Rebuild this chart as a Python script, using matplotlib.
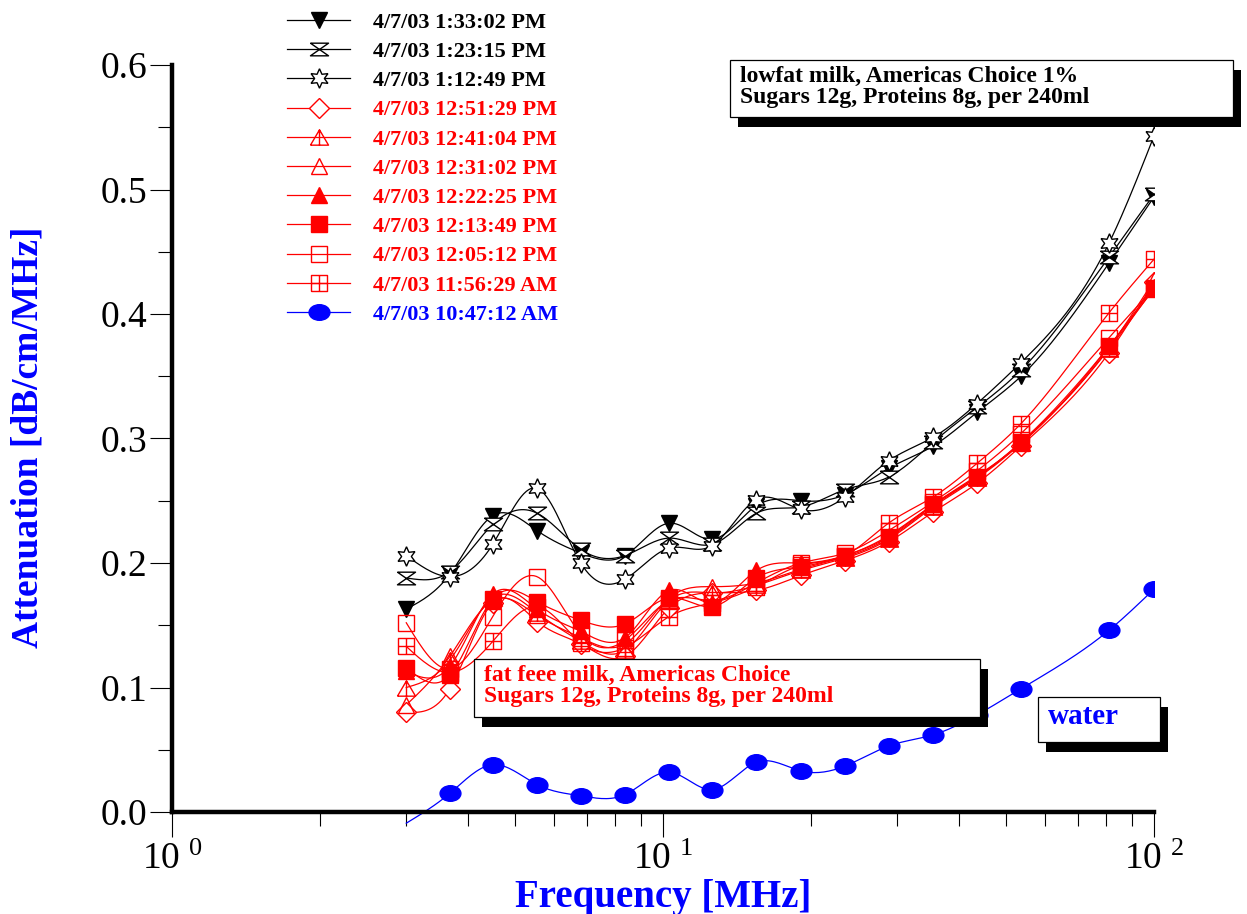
import numpy as np
import matplotlib
matplotlib.use('Agg')
import matplotlib.pyplot as plt
from matplotlib.path import Path
from matplotlib.lines import Line2D
from matplotlib.patches import Rectangle
from matplotlib.ticker import FixedLocator, NullFormatter, FuncFormatter
import matplotlib.patheffects as pe

plt.rcParams['font.family'] = ['Liberation Serif', 'DejaVu Serif']
plt.rcParams['mathtext.fontset'] = 'custom'
plt.rcParams['mathtext.rm'] = 'Liberation Serif'

freq = [3.0, 3.68, 4.5, 5.54, 6.8, 8.37, 10.3, 12.6, 15.5, 19.1, 23.5, 28.8,
        35.5, 43.6, 53.6, 81.0, 100.0]

labels = ['4/7/03 1:33:02 PM', '4/7/03 1:23:15 PM', '4/7/03 1:12:49 PM',
          '4/7/03 12:51:29 PM', '4/7/03 12:41:04 PM', '4/7/03 12:31:02 PM',
          '4/7/03 12:22:25 PM', '4/7/03 12:13:49 PM', '4/7/03 12:05:12 PM',
          '4/7/03 11:56:29 AM', '4/7/03 10:47:12 AM']

att_1330 = [0.163, 0.191, 0.238, 0.226, 0.208, 0.206, 0.232, 0.219, 0.246, 0.250, 0.255,
            0.276, 0.294, 0.321, 0.350, 0.441, 0.494]
att_1323 = [0.188, 0.193, 0.231, 0.240, 0.211, 0.206, 0.220, 0.215, 0.240, 0.245, 0.259,
            0.269, 0.297, 0.325, 0.355, 0.446, 0.496]
att_1312 = [0.206, 0.189, 0.215, 0.260, 0.200, 0.187, 0.212, 0.214, 0.251, 0.243, 0.253,
            0.282, 0.301, 0.328, 0.361, 0.457, 0.543]
att_1251 = [0.080, 0.099, 0.168, 0.153, 0.135, 0.125, 0.164, 0.176, 0.178, 0.190, 0.202,
            0.217, 0.241, 0.264, 0.294, 0.369, 0.426]
att_1241 = [0.100, 0.122, 0.172, 0.160, 0.137, 0.130, 0.170, 0.176, 0.182, 0.194, 0.204,
            0.219, 0.245, 0.268, 0.296, 0.372, 0.421]
att_1231 = [0.086, 0.125, 0.170, 0.158, 0.140, 0.135, 0.172, 0.181, 0.184, 0.195, 0.205,
            0.220, 0.246, 0.269, 0.297, 0.373, 0.427]
att_1222 = [0.113, 0.117, 0.175, 0.163, 0.145, 0.140, 0.178, 0.168, 0.194, 0.200, 0.206,
            0.222, 0.247, 0.270, 0.296, 0.374, 0.422]
att_1213 = [0.116, 0.110, 0.171, 0.169, 0.154, 0.151, 0.172, 0.165, 0.188, 0.197, 0.206,
            0.221, 0.247, 0.269, 0.297, 0.374, 0.420]
att_1205 = [0.152, 0.115, 0.157, 0.189, 0.143, 0.138, 0.170, 0.170, 0.184, 0.200, 0.208,
            0.226, 0.249, 0.274, 0.304, 0.381, 0.421]
att_1156 = [0.133, 0.112, 0.137, 0.165, 0.136, 0.132, 0.157, 0.168, 0.181, 0.198, 0.206,
            0.232, 0.253, 0.280, 0.312, 0.401, 0.444]
att_water = [-0.009, 0.015, 0.038, 0.022, 0.013, 0.014, 0.032, 0.018, 0.040, 0.033, 0.037,
             0.053, 0.062, 0.078, 0.099, 0.146, 0.179]

series = [att_1330, att_1323, att_1312, att_1251, att_1241, att_1231, att_1222,
          att_1213, att_1205, att_1156, att_water]

# custom marker shapes
hourglass = Path([(-1, 0.7), (1, 0.7), (-1, -0.7), (1, -0.7), (-1, 0.7)])
tri_plus = Path([(-1, -0.85), (1, -0.85), (0, 0.85), (-1, -0.85), (0, 0.85), (0, -0.85)],
                [Path.MOVETO, Path.LINETO, Path.LINETO, Path.LINETO, Path.MOVETO, Path.LINETO])
sq_plus = Path([(-1, -1), (1, -1), (1, 1), (-1, 1), (-1, -1), (0, -1), (0, 1), (-1, 0), (1, 0)],
               [Path.MOVETO, Path.LINETO, Path.LINETO, Path.LINETO, Path.LINETO,
                Path.MOVETO, Path.LINETO, Path.MOVETO, Path.LINETO])
circ = Path.unit_circle()
ellipse = Path(circ.vertices * np.array([1.0, 0.75]), circ.codes)

# (color, marker, facecolor, size)
styles = [
    ('black', 'v', 'black', 12),
    ('black', hourglass, 'white', 13),
    ('black', (6, 1, 0), 'white', 14),
    ('red', 'D', 'white', 10),
    ('red', tri_plus, 'none', 13),
    ('red', '^', 'none', 12),
    ('red', '^', 'red', 12),
    ('red', 's', 'red', 11),
    ('red', 's', 'none', 11),
    ('red', sq_plus, 'none', 11),
    ('blue', ellipse, 'blue', 15),
]


def smooth(xs, ys, n=300):
    # natural cubic spline in log-frequency
    t = np.log10(np.asarray(xs))
    y = np.asarray(ys)
    k = len(t)
    h = np.diff(t)
    A = np.zeros((k, k))
    r = np.zeros(k)
    A[0, 0] = A[-1, -1] = 1
    for i in range(1, k - 1):
        A[i, i - 1] = h[i - 1]
        A[i, i] = 2 * (h[i - 1] + h[i])
        A[i, i + 1] = h[i]
        r[i] = 6 * ((y[i + 1] - y[i]) / h[i] - (y[i] - y[i - 1]) / h[i - 1])
    M = np.linalg.solve(A, r)
    tt = np.linspace(t[0], t[-1], n)
    idx = np.clip(np.searchsorted(t, tt) - 1, 0, k - 2)
    a = t[idx + 1] - tt
    b = tt - t[idx]
    hh = h[idx]
    yy = (M[idx] * a ** 3 + M[idx + 1] * b ** 3) / (6 * hh) \
        + (y[idx] / hh - M[idx] * hh / 6) * a + (y[idx + 1] / hh - M[idx + 1] * hh / 6) * b
    return 10 ** tt, yy


W, H = 1247, 914
fig = plt.figure(figsize=(W / 100, H / 100), dpi=100)
ax = fig.add_axes([172 / W, 1 - 812 / H, (1154 - 172) / W, (812 - 65) / H])

handles = []
for vals, (col, mk, fc, ms), lab in zip(series, styles, labels):
    sx, sy = smooth(freq, vals)
    ax.plot(sx, sy, color=col, lw=0.9, clip_on=False, zorder=2)
    v = np.array(vals)
    f = np.array(freq)
    keep = v >= 0
    ax.plot(f[keep], v[keep], ls='none', marker=mk, ms=ms, mfc=fc, mec=col, mew=1.0, zorder=3)
    handles.append(Line2D([], [], color=col, lw=0.9, marker=mk, ms=ms, mfc=fc, mec=col, mew=1.0))

ax.set_xscale('log')
ax.set_xlim(1, 100)
ax.set_ylim(0, 0.6)

for s in ['top', 'right']:
    ax.spines[s].set_visible(False)
for s in ['left', 'bottom']:
    ax.spines[s].set_linewidth(3.2)

ax.set_yticks(np.arange(0, 0.61, 0.1))
ax.yaxis.set_minor_locator(FixedLocator(np.arange(0.05, 0.6, 0.1)))
ax.yaxis.set_major_formatter(FuncFormatter(lambda v, p: f'{v:.1f}'))
ax.xaxis.set_major_locator(FixedLocator([1, 10, 100]))
ax.xaxis.set_minor_locator(FixedLocator([m * d for d in (1, 10) for m in range(2, 10)]))
ax.xaxis.set_minor_formatter(NullFormatter())
ax.xaxis.set_major_formatter(FuncFormatter(
    lambda v, p: r'$\mathregular{10^{\ %d}}$' % int(round(np.log10(v)))))

ax.tick_params(axis='y', which='major', direction='out', length=16, width=0.8,
               labelsize=27, pad=2)
ax.tick_params(axis='y', which='minor', direction='out', length=10, width=0.8)
ax.tick_params(axis='x', which='major', direction='out', length=18, width=0.8,
               labelsize=27, pad=4)
ax.tick_params(axis='x', which='minor', direction='out', length=10, width=0.8)

ax.set_xlabel('Frequency [MHz]', color='blue', fontsize=28, fontweight='bold')
ax.xaxis.set_label_coords(0.5, -0.09)
ax.set_ylabel('Attenuation [dB/cm/MHz]', color='blue', fontsize=27, fontweight='bold')
ax.yaxis.set_label_coords(-0.129, 0.502)

leg = fig.legend(handles, labels, loc='upper left',
                 bbox_to_anchor=(276 / W, 1 - 1 / H), bbox_transform=fig.transFigure,
                 frameon=False, prop={'weight': 'bold', 'size': 16},
                 labelcolor=[h.get_color() for h in handles],
                 handlelength=2.85, handletextpad=1.0, labelspacing=0.39, borderpad=0)

shadow = [pe.withSimplePatchShadow(offset=(6, -7), shadow_rgbFace='black', alpha=1.0)]


def note(x0, y0, x1, y1, txt, col, size):
    # framed label with a solid drop shadow, box given in pixels from top-left
    box = Rectangle((x0 / W, 1 - y1 / H), (x1 - x0) / W, (y1 - y0) / H,
                    transform=fig.transFigure, fc='white', ec='black', lw=0.9, zorder=5)
    box.set_path_effects(shadow)
    fig.add_artist(box)
    fig.text((x0 + 10) / W, 1 - (y0 + 6) / H, txt, color=col, fontsize=size,
             fontweight='bold', va='top', ha='left', linespacing=1.0, zorder=6)


note(730, 60, 1233, 117, 'lowfat milk, Americas Choice 1%\nSugars 12g, Proteins 8g, per 240ml',
     'black', 17)
note(474, 659, 980, 717, 'fat feee milk, Americas Choice\nSugars 12g, Proteins 8g, per 240ml',
     'red', 17)
note(1038, 697, 1160, 742, 'water', 'blue', 21)

fig.savefig('out.png', dpi=100)
